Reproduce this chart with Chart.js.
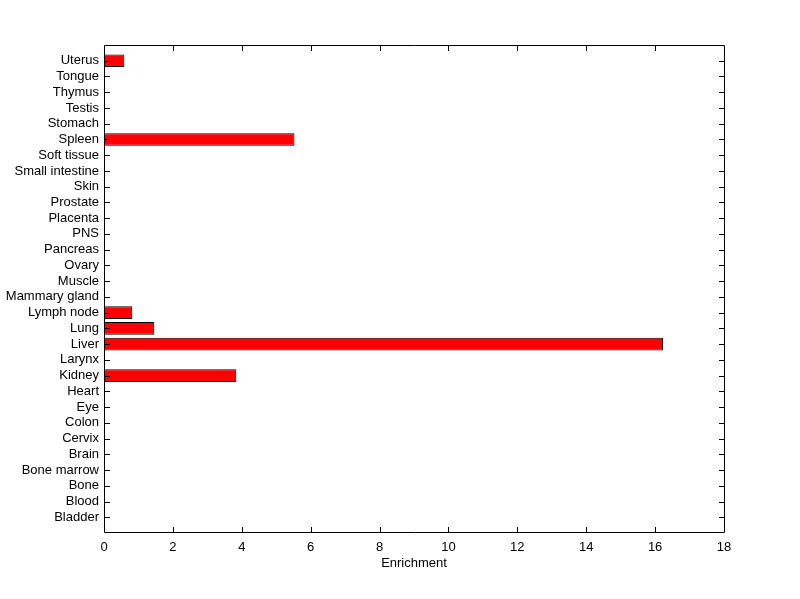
<!DOCTYPE html>
<html>
<head>
<meta charset="utf-8">
<script src="https://cdn.jsdelivr.net/npm/chart.js@4/dist/chart.umd.min.js"></script>
<style>
  body { margin: 0; background: #fff; }
  canvas { display: block; }
</style>
</head>
<body>
<canvas id="chart" width="800" height="599"></canvas>
<script>
// tissues from bottom to top, as on the plot
const tissues = ['Bladder', 'Blood', 'Bone', 'Bone marrow', 'Brain', 'Cervix', 'Colon', 'Eye', 'Heart',
  'Kidney', 'Larynx', 'Liver', 'Lung', 'Lymph node', 'Mammary gland', 'Muscle', 'Ovary', 'Pancreas',
  'PNS', 'Placenta', 'Prostate', 'Skin', 'Small intestine', 'Soft tissue', 'Spleen', 'Stomach',
  'Testis', 'Thymus', 'Tongue', 'Uterus'];
const enrichment = [0, 0, 0, 0, 0, 0, 0, 0, 0,
  3.84, 0, 16.23, 1.46, 0.82, 0, 0, 0, 0,
  0, 0, 0, 0, 0, 0, 5.53, 0,
  0, 0, 0, 0.59];
const xTicks = [0, 2, 4, 6, 8, 10, 12, 14, 16, 18];

// one empty slot below and above, like matlab's axis limits
const labels = ['', ...tissues, ''];
const values = [null, ...enrichment, null];

// matlab style box with inward ticks
const boxTicks = {
  id: 'boxTicks',
  afterDraw(chart) {
    const { ctx, chartArea: a } = chart;
    const xs = chart.scales.x, ys = chart.scales.y;
    ctx.save();
    ctx.strokeStyle = '#000';
    ctx.lineWidth = 1;
    ctx.beginPath();
    ctx.rect(a.left + 0.5, a.top + 0.5, a.right - a.left, a.bottom - a.top - 1);
    xs.ticks.forEach((t, i) => {
      if (i === 0 || i === xs.ticks.length - 1) return;
      const px = Math.round(xs.getPixelForTick(i)) + 0.5;
      ctx.moveTo(px, a.bottom); ctx.lineTo(px, a.bottom - 6);
      ctx.moveTo(px, a.top); ctx.lineTo(px, a.top + 6);
    });
    ys.ticks.forEach((t, i) => {
      if (!labels[t.value]) return;
      const py = Math.round(ys.getPixelForTick(i)) + 0.5;
      ctx.moveTo(a.left, py); ctx.lineTo(a.left + 6, py);
      ctx.moveTo(a.right + 1, py); ctx.lineTo(a.right - 5, py);
    });
    ctx.stroke();
    ctx.restore();
  }
};

new Chart(document.getElementById('chart'), {
  type: 'bar',
  data: {
    labels: labels,
    datasets: [{
      data: values,
      backgroundColor: '#ff0000',
      borderColor: '#000',
      borderWidth: 1,
      borderSkipped: false,
      inflateAmount: 0,
      barPercentage: 0.8,
      categoryPercentage: 1
    }]
  },
  options: {
    indexAxis: 'y',
    responsive: false,
    animation: false,
    layout: { padding: { top: 45, right: 76, left: 0, bottom: 0 } },
    plugins: { legend: { display: false }, tooltip: { enabled: false } },
    scales: {
      x: {
        min: 0,
        max: 18,
        afterBuildTicks: (s) => { s.ticks = xTicks.map(v => ({ value: v })); },
        afterFit: (s) => { s.height = 66; },
        grid: { display: false, drawTicks: false },
        border: { display: false },
        ticks: { color: '#000', padding: 7, font: { family: 'Liberation Sans', size: 13 } },
        title: {
          display: true,
          text: 'Enrichment',
          color: '#000',
          padding: { top: 3, bottom: 28 },
          font: { family: 'Liberation Sans', size: 13 }
        }
      },
      y: {
        reverse: true,
        offset: false,
        afterFit: (s) => { s.width = 104; },
        grid: { display: false, drawTicks: false },
        border: { display: false },
        ticks: { color: '#000', padding: 5, autoSkip: false, font: { family: 'Liberation Sans', size: 13 } }
      }
    }
  },
  plugins: [boxTicks]
});
</script>
</body>
</html>
